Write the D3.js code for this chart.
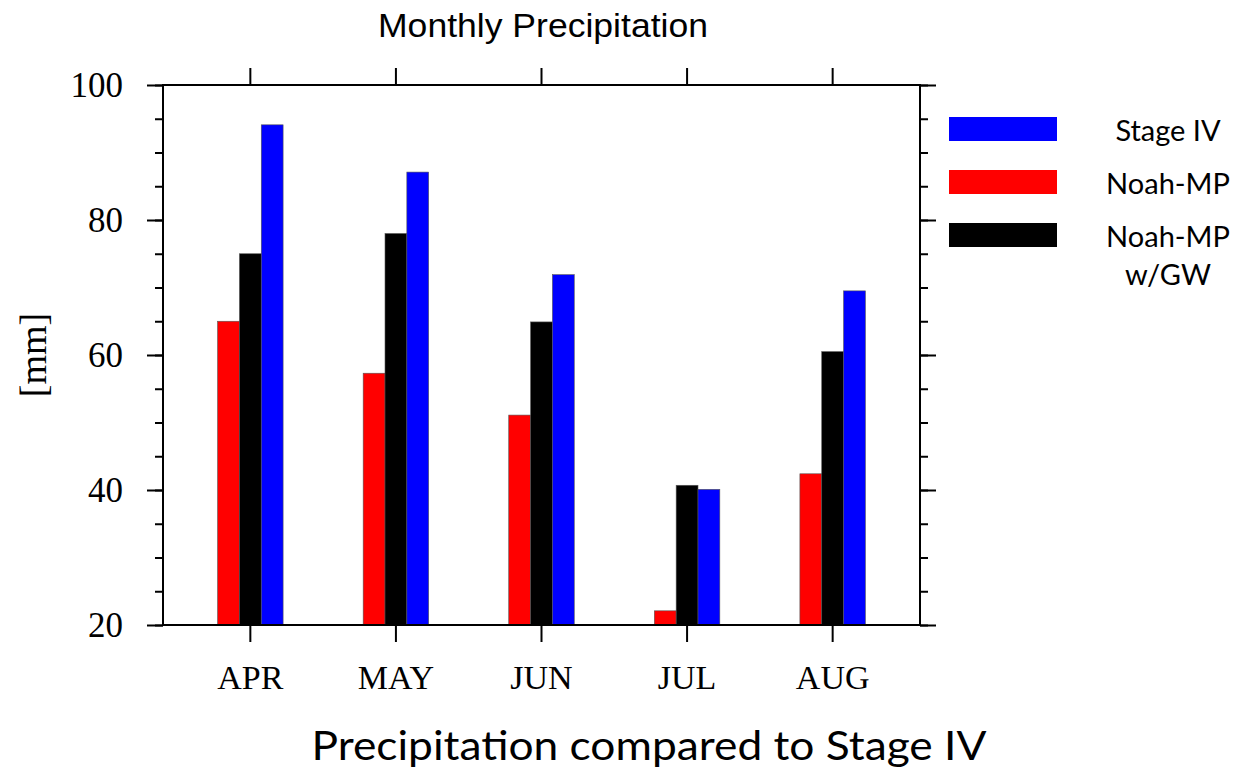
<!DOCTYPE html>
<html>
<head>
<meta charset="utf-8">
<script src="https://cdn.jsdelivr.net/npm/d3@7"></script>
<style>
  html, body { margin: 0; padding: 0; background: #fff; }
  svg { display: block; }
</style>
</head>
<body>
<svg id="chart" width="1234" height="770"></svg>
<script>
// Monthly precipitation totals [mm]
const months = ["APR", "MAY", "JUN", "JUL", "AUG"];
const stageIV = [94.1, 87.1, 71.9, 40.1, 69.5];
const noahMP = [65.0, 57.3, 51.1, 22.1, 42.4];
const noahMPGW = [75.0, 78.0, 64.9, 40.7, 60.5];
const yMajorTicks = [20, 40, 60, 80, 100];
const yMinorTicks = d3.range(20, 100.001, 5);

// Series drawn left-to-right inside each month group
const series = [
  { name: "Noah-MP", values: noahMP, color: "#ff0000", offset: -1 },
  { name: "Noah-MP w/GW", values: noahMPGW, color: "#000000", offset: 0 },
  { name: "Stage IV", values: stageIV, color: "#0000ff", offset: 1 }
];
// Legend order and labels
const legendItems = [
  { lines: ["Stage IV"], color: "#0000ff" },
  { lines: ["Noah-MP"], color: "#ff0000" },
  { lines: ["Noah-MP", "w/GW"], color: "#000000" }
];

const svg = d3.select("#chart");
const plot = { left: 163, right: 920, top: 85, bottom: 625 };

const x = d3.scaleBand()
  .domain(months)
  .range([plot.left, plot.right])
  .paddingInner(0)
  .paddingOuter(0.1);
const y = d3.scaleLinear().domain([20, 100]).range([plot.bottom, plot.top]);

const barW = x.step() * 0.15;
const center = m => x(m) + x.bandwidth() / 2;

// Bars
series.forEach(s => {
  svg.append("g").selectAll("rect")
    .data(months.map((m, i) => ({ m, v: s.values[i] })))
    .join("rect")
    .attr("x", d => center(d.m) + s.offset * barW - barW / 2)
    .attr("y", d => y(d.v))
    .attr("width", barW)
    .attr("height", d => y(20) - y(d.v))
    .attr("fill", s.color)
    .attr("stroke", "#555")
    .attr("stroke-width", 0.6);
});

const axisStyle = g => {
  g.select(".domain").remove();
  g.selectAll(".tick line").attr("stroke", "#000").attr("stroke-width", 2);
};

// Minor y ticks (left and right)
svg.append("g")
  .attr("transform", `translate(${plot.left},0)`)
  .call(d3.axisLeft(y).tickValues(yMinorTicks).tickSize(8).tickFormat(""))
  .call(axisStyle);
svg.append("g")
  .attr("transform", `translate(${plot.right},0)`)
  .call(d3.axisRight(y).tickValues(yMinorTicks).tickSize(8).tickFormat(""))
  .call(axisStyle);

// Major y ticks with labels on the left
svg.append("g")
  .attr("transform", `translate(${plot.left},0)`)
  .call(d3.axisLeft(y).tickValues(yMajorTicks).tickSize(16).tickPadding(24).tickFormat(d3.format("d")))
  .call(axisStyle)
  .call(g => g.selectAll(".tick text")
    .attr("fill", "#000")
    .attr("dy", "0.34em")
    .style("font-family", "'Liberation Serif', 'Times New Roman', serif")
    .style("font-size", "35px"));
svg.append("g")
  .attr("transform", `translate(${plot.right},0)`)
  .call(d3.axisRight(y).tickValues(yMajorTicks).tickSize(16).tickFormat(""))
  .call(axisStyle);

// x ticks on bottom (with month labels) and top
svg.append("g")
  .attr("transform", `translate(0,${plot.bottom})`)
  .call(d3.axisBottom(x).tickSize(17).tickPadding(23))
  .call(axisStyle)
  .call(g => g.selectAll(".tick text")
    .attr("fill", "#000")
    .attr("dy", "0.71em")
    .style("font-family", "'Liberation Serif', 'Times New Roman', serif")
    .style("font-size", "34px"));
svg.append("g")
  .attr("transform", `translate(0,${plot.top})`)
  .call(d3.axisTop(x).tickSize(17).tickFormat(""))
  .call(axisStyle);

// Plot frame
svg.append("rect")
  .attr("x", plot.left).attr("y", plot.top)
  .attr("width", plot.right - plot.left)
  .attr("height", plot.bottom - plot.top)
  .attr("fill", "none")
  .attr("stroke", "#000")
  .attr("stroke-width", 2);

// Title
svg.append("text")
  .attr("x", 543).attr("y", 37)
  .attr("text-anchor", "middle")
  .attr("textLength", 330)
  .attr("lengthAdjust", "spacingAndGlyphs")
  .style("font-family", "'Liberation Sans', Arial, sans-serif")
  .style("font-size", "33px")
  .text("Monthly Precipitation");

// y-axis label
svg.append("text")
  .attr("transform", "translate(46,355) rotate(-90)")
  .attr("text-anchor", "middle")
  .style("font-family", "'Liberation Serif', 'Times New Roman', serif")
  .style("font-size", "38px")
  .text("[mm]");

// x-axis caption
svg.append("text")
  .attr("x", 649).attr("y", 760)
  .attr("text-anchor", "middle")
  .attr("textLength", 675)
  .attr("lengthAdjust", "spacingAndGlyphs")
  .style("font-family", "Lato, 'Open Sans', sans-serif")
  .style("font-size", "40px")
  .text("Precipitation compared to Stage IV");

// Legend
const legend = svg.append("g");
const legendY = d3.scaleLinear().domain([0, 2]).range([117, 223]);
legendItems.forEach((item, i) => {
  const top = legendY(i);
  legend.append("rect")
    .attr("x", 949).attr("y", top)
    .attr("width", 108).attr("height", 24)
    .attr("fill", item.color);
  item.lines.forEach((line, j) => {
    legend.append("text")
      .attr("x", 1168).attr("y", top + 24 + j * 38)
      .attr("text-anchor", "middle")
      .style("font-family", "Lato, 'Open Sans', sans-serif")
      .style("font-size", "29px")
      .text(line);
  });
});
</script>
</body>
</html>
